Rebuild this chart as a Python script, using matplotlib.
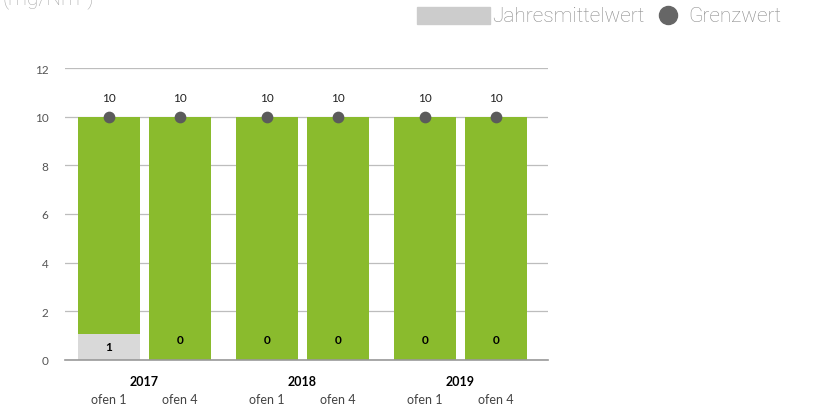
import matplotlib
matplotlib.use("Agg")
import matplotlib.pyplot as plt
from matplotlib.patches import Rectangle
from matplotlib.lines import Line2D
import numpy as np

# DATA
#===========================================================================
years = ["2017", "2018", "2019"]
ovens = ["ofen 1", "ofen 4"]
mittelwert = [1.07, 0.0, 0.0, 0.0, 0.0, 0.0]   # Jahresmittelwert (mg/Nm3)
grenzwert = [10, 10, 10, 10, 10, 10]          # Grenzwert
mittel_labels = ["1", "0", "0", "0", "0", "0"]
grenz_labels = ["10", "10", "10", "10", "10", "10"]
y_ticks = [0, 2, 4, 6, 8, 10, 12]

green = "#8abb2d"
grey_bar = "#d9d9d9"
dot_col = "#5b5b5b"
text_grey = "#8a8a8a"

plt.rcParams['font.family'] = ['Lato', 'DejaVu Sans']

fig = plt.figure(figsize=(8.21, 4.10), dpi=100)
ax = fig.add_axes([65 / 821, 49 / 410, 483 / 821, 292 / 410])

# bar positions
group_x = np.arange(len(years))
offset = 0.225
width = 0.392
xs = np.array([g + s * offset for g in group_x for s in (-1, 1)])

mw = np.array(mittelwert)
gw = np.array(grenzwert)

ax.bar(xs, mw, width=width, color=grey_bar, zorder=2)
ax.bar(xs, gw - mw, bottom=mw, width=width, color=green, zorder=2)
ax.scatter(xs, gw, s=55, color=dot_col, zorder=4)

for x, v, lab in zip(xs, mw, mittel_labels):
    ypos = v / 2 if v > 0.5 else 0.85
    ax.text(x, ypos, lab, ha='center', va='center', fontsize=8.5,
            fontweight='bold', color='black', zorder=5)
for x, v, lab in zip(xs, gw, grenz_labels):
    ax.text(x, v + 0.55, lab, ha='center', va='bottom', fontsize=8.5,
            color='#222222', zorder=5)

# axes styling
ax.set_xlim(-0.503, 2.554)
ax.set_ylim(0, 12)
ax.set_yticks(y_ticks)
ax.tick_params(axis='y', length=0, labelsize=8.5, labelcolor='#555555', pad=12)
ax.set_xticks([])
for s in ['top', 'right', 'left']:
    ax.spines[s].set_visible(False)
ax.spines['bottom'].set_color('#999999')
ax.spines['bottom'].set_linewidth(1.2)
ax.yaxis.grid(True, color='#bdbdbd', linewidth=0.9, zorder=0)
ax.set_axisbelow(True)

# category labels
trans = ax.get_xaxis_transform()
for g, yr in zip(group_x, years):
    ax.text(g, -0.072, yr, transform=trans, ha='center', va='center',
            fontsize=9, fontweight='bold', color='black')
for x, ov in zip(xs, ovens * len(years)):
    ax.text(x, -0.134, ov, transform=trans, ha='center', va='center',
            fontsize=9, color='#444444')

# legend (top right)
fig.add_artist(Rectangle((417 / 821, (410 - 25) / 410), 73 / 821, 17 / 410,
                         transform=fig.transFigure, color='#cccccc'))
fig.text(492 / 821, 1 - 17 / 410, "Jahresmittelwert", ha='left', va='center',
         fontsize=15, color=text_grey, family=['Roboto', 'DejaVu Sans'],
         fontweight='light')
fig.add_artist(Line2D([668 / 821], [1 - 16 / 410], marker='o', markersize=13,
                      color='#666666', transform=fig.transFigure))
fig.text(688 / 821, 1 - 17 / 410, "Grenzwert", ha='left', va='center',
         fontsize=15, color=text_grey, family=['Roboto', 'DejaVu Sans'],
         fontweight='light')

# unit label, cut at top edge (as in the source)
fig.text(2 / 821, 1 - 4 / 410, "(mg/Nm³)", ha='left', va='baseline',
         fontsize=15, color='#aaaaaa', family=['Roboto', 'DejaVu Sans'],
         fontweight='light')

fig.savefig("out.png", dpi=100)
